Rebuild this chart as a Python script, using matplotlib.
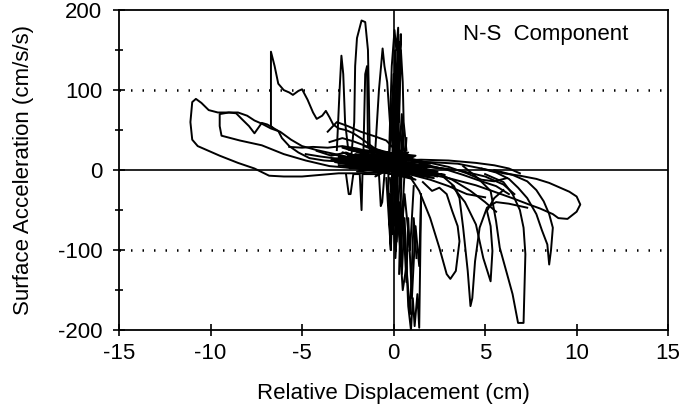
import matplotlib.pyplot as plt
from matplotlib.ticker import MultipleLocator

plt.rcParams['font.family'] = ['Liberation Sans', 'DejaVu Sans']
plt.rcParams['axes.unicode_minus'] = False

# ---- traces (x = cm, y = cm/s/s) ----
# big left loop
loop_a_x = [0.5, -1.0, -2.5, -3.8, -4.6, -5.2, -5.7, -6.1, -6.3, -6.6, -6.9, -7.2, -7.6, -7.9,
            -8.3, -8.6, -9.0, -9.6, -10.1, -10.5, -10.8, -11.0, -11.1, -11.0, -10.7, -10.3,
            -9.5, -8.5, -7.6, -6.8, -6.0, -5.0, -4.0, -3.0, -2.0, -1.0, 0.0]
loop_a_y = [5, 8, 10, 12, 15, 22, 30, 40, 49, 53, 57, 59, 46, 55, 64, 71, 72, 72, 75, 84, 89,
            85, 60, 38, 30, 26, 18, 9, 2, -7, -8, -8, -6, -4, -4, -3, 0]
# second left loop
loop_b_x = [-0.5, -2.0, -3.2, -4.2, -5.0, -5.6, -6.2, -6.7, -7.2, -7.6, -8.0, -8.5, -9.0,
            -9.5, -9.5, -9.4, -8.4, -7.2, -6.0, -4.8, -3.5, -2.0, -0.5]
loop_b_y = [8, 14, 20, 25, 30, 38, 48, 52, 58, 62, 68, 72, 72, 70, 55, 43, 37, 31, 20, 12, 5, 2, 0]
# jump at -6.7 and wavy descent
wave_x = [-6.6, -6.7, -6.7, -6.5, -6.3, -6.0, -5.7, -5.5, -5.2, -5.0, -4.7, -4.4, -4.2, -3.9,
          -3.7, -3.5, -3.3, -3.0, -2.6, -2.2, -1.8, -1.2, -0.5]
wave_y = [53, 55, 148, 130, 108, 100, 97, 94, 99, 101, 88, 72, 64, 68, 74, 66, 57, 52, 50, 46,
          40, 30, 18]
# left fan into the centre
fan1_x = [-5.7, -5.0, -4.4, -3.6, -2.8, -2.0, -1.0, 0.0]
fan1_y = [29, 28, 29, 28, 30, 27, 20, 10]
fan2_x = [-3.6, -3.1, -2.5, -1.8, -1.0, -0.4, 0.3]
fan2_y = [48, 60, 55, 48, 42, 37, 20]
fan3_x = [-4.8, -4.0, -3.0, -2.0, -1.0, 0.0, 1.0]
fan3_y = [20, 17, 14, 12, 9, 5, 2]
fan4_x = [-3.5, -2.8, -2.2, -1.5, -0.8, 0.2]
fan4_y = [35, 40, 36, 30, 25, 14]
fan5_x = [-4.2, -3.4, -2.6, -1.9, -1.2, -0.6, 0.4]
fan5_y = [24, 18, 22, 16, 20, 10, 6]
# dense core
core_x = [-3.4, 1.8, -3.0, 2.4, -2.8, 1.6, -3.2, 2.2, -2.5, 1.5, -2.0, 2.8, -3.4, 1.2, -1.5,
          2.0, -2.6, 1.6, -1.8, 2.4, -3.0, 1.0, -2.2, 2.6, -1.2, 1.8, -2.7, 0.8]
core_y = [20, -4, 16, -8, 22, -2, 10, -10, 18, 0, 8, -6, 13, -12, 16, 4, 10, -5, 22, -2, 6,
          -9, 15, 2, 24, -6, 4, 12]
core2_x = [-3.0, 1.0, -2.5, 1.4, -2.0, 0.8, -3.3, 1.6, -1.6, 2.0, -2.4, 0.6, -1.0, 1.2, -2.8,
           2.2, -1.4, 0.9, -2.1, 1.7]
core2_y = [8, 16, 26, 6, -2, 22, 14, 0, 30, 8, 2, 26, -8, 18, 28, -4, 12, -10, 20, 10]
# upward spikes near the origin
spk1_x = [-3.1, -2.95, -2.85, -2.75, -2.65, -2.5]
spk1_y = [25, 100, 143, 120, 60, 30]
spk2_x = [-2.3, -2.15, -2.1, -2.0, -1.75, -1.55, -1.4, -1.35, -1.3]
spk2_y = [20, 60, 130, 165, 187, 185, 150, 90, 25]
spk3_x = [-1.65, -1.55, -1.45, -1.4]
spk3_y = [20, 120, 130, 30]
spk4_x = [-1.0, -0.8, -0.6, -0.5, -0.35, -0.2, 0.0]
spk4_y = [25, 100, 152, 130, 110, 60, 20]
spk5_x = [-0.3, -0.1, 0.05, 0.15, 0.25, 0.3, 0.4, 0.5, 0.55, 0.7]
spk5_y = [-20, 130, 175, 150, 178, 60, 150, 110, 60, 25]
spk6_x = [-0.25, -0.05, 0.1, 0.2, 0.3, 0.45, 0.6]
spk6_y = [10, 90, 40, 120, 20, 70, 15]
cen_x = [0.05, 0.25, 0.1, 0.3, 0.15, 0.35, 0.2, 0.4, 0.0, 0.3, 0.1]
cen_y = [20, 170, -50, 160, -90, 140, 40, 170, -70, 100, -30]
cen2_x = [-0.2, 0.0, -0.1, 0.1, -0.15, 0.2, 0.0, 0.3, 0.1, 0.5, 0.3, 0.7]
cen2_y = [30, 120, -40, 150, -100, 110, -20, 160, -110, 60, -130, 40]
# downward spikes near the origin
neg1_x = [0.0, 0.15, 0.3, 0.45, 0.6, 0.8, 0.95, 1.05, 1.15, 1.3, 1.4, 1.5]
neg1_y = [0, -80, -40, -130, -60, -170, -200, -160, -195, -155, -197, -40]
neg2_x = [-0.2, 0.1, 0.25, 0.5, 0.7, 0.9, 1.1, 1.25]
neg2_y = [-10, -100, -60, -150, -120, -180, -60, -110]
neg3_x = [-2.6, -2.45, -2.35, -2.2, -1.85, -1.75, -1.7, -0.8, -0.7, -0.62, -0.5]
neg3_y = [-5, -30, -30, -5, -5, -50, -5, -5, -45, -40, -5]
neg4_x = [-0.4, -0.15, -0.3, -0.05, -0.2, 0.4, 0.6, 0.9, 1.1]
neg4_y = [-10, -100, -20, -80, -30, -90, -30, -100, -20]
neg5_x = [0.2, 0.4, 0.5, 0.7, 0.8, 1.0, 1.2, 1.4, 1.5]
neg5_y = [-20, -120, -50, -140, -60, -160, -70, -120, -30]
# right side loops and dips
loop_r1_x = [0.5, 2.0, 3.5, 4.8, 6.0, 6.9, 7.8, 8.5, 9.1, 9.6, 10.0, 10.2, 10.0, 9.5, 9.0,
             8.7, 8.0, 7.4, 6.6, 5.5, 4.5, 3.0, 1.5, 0.3]
loop_r1_y = [10, 10, 8, 2, -4, -7, -11, -16, -22, -27, -33, -43, -52, -61, -60, -55, -48, -43,
             -36, -27, -19, -10, -3, 0]
loop_r2_x = [4.8, 5.6, 6.3, 6.8, 7.3, 7.8, 8.1, 8.4, 8.5, 8.6, 8.7, 8.5, 8.2, 7.8, 7.3, 6.5, 5.5]
loop_r2_y = [2, -3, -11, -22, -35, -55, -75, -93, -118, -100, -72, -55, -39, -25, -14, -6, 0]
dip7_x = [3.8, 4.6, 5.3, 5.6, 5.8, 6.2, 6.5, 6.8, 7.1, 7.2, 7.1, 6.9, 6.5, 6.0, 5.0]
dip7_y = [5, -10, -26, -64, -97, -130, -155, -191, -191, -105, -72, -50, -30, -15, -5]
dip42_x = [2.7, 3.3, 3.6, 3.8, 4.05, 4.2, 4.3, 4.45, 4.7, 5.1, 5.6, 6.3, 7.3]
dip42_y = [-8, -20, -35, -72, -126, -170, -160, -114, -72, -47, -40, -42, -47]
dip53_x = [3.2, 3.9, 4.5, 4.9, 5.3, 5.4, 5.3, 5.1, 5.5, 6.0]
dip53_y = [-20, -40, -68, -110, -139, -101, -70, -51, -35, -25]
dip31_x = [0.8, 1.4, 2.0, 2.5, 2.9, 3.1, 3.4, 3.6, 3.5, 3.2, 2.9, 2.5, 2.1, 1.6]
dip31_y = [-5, -26, -60, -97, -130, -136, -126, -89, -70, -51, -30, -22, -26, -15]
rf1_x = [0.0, 1.5, 3.0, 4.5, 5.5, 6.3, 6.9]
rf1_y = [12, 13, 12, 9, 6, 2, -4]
rf2_x = [0.5, 2.0, 3.5, 5.0, 6.0, 6.6]
rf2_y = [5, 4, 0, -8, -18, -30]
rf3_x = [0.3, 1.5, 2.7, 3.8, 4.8, 5.6, 6.3]
rf3_y = [8, 6, 2, -6, -14, -20, -30]
rf4_x = [0.0, 1.0, 2.0, 3.0, 4.0, 5.0]
rf4_y = [-2, -6, -12, -20, -30, -34]
rf5_x = [1.0, 2.2, 3.2, 4.2, 5.0, 5.6]
rf5_y = [4, -2, -12, -26, -40, -52]
rf6_x = [0.5, 1.8, 3.0, 4.0, 4.8, 5.5, 6.2]
rf6_y = [14, 10, 4, -4, -12, -14, -10]

traces = [
    (loop_a_x, loop_a_y), (loop_b_x, loop_b_y), (wave_x, wave_y),
    (fan1_x, fan1_y), (fan2_x, fan2_y), (fan3_x, fan3_y), (fan4_x, fan4_y), (fan5_x, fan5_y),
    (core_x, core_y), (core2_x, core2_y),
    (spk1_x, spk1_y), (spk2_x, spk2_y), (spk3_x, spk3_y), (spk4_x, spk4_y), (spk5_x, spk5_y),
    (spk6_x, spk6_y), (cen_x, cen_y), (cen2_x, cen2_y),
    (neg1_x, neg1_y), (neg2_x, neg2_y), (neg3_x, neg3_y), (neg4_x, neg4_y), (neg5_x, neg5_y),
    (loop_r1_x, loop_r1_y), (loop_r2_x, loop_r2_y), (dip7_x, dip7_y), (dip42_x, dip42_y),
    (dip53_x, dip53_y), (dip31_x, dip31_y),
    (rf1_x, rf1_y), (rf2_x, rf2_y), (rf3_x, rf3_y), (rf4_x, rf4_y), (rf5_x, rf5_y),
    (rf6_x, rf6_y),
]

fig = plt.figure(figsize=(6.96, 4.20), dpi=100)
ax = fig.add_axes([0.171, 0.214, 0.789, 0.762])

for xs, ys in traces:
    ax.plot(xs, ys, color='black', lw=1.4)

# reference lines
ax.axhline(0, color='black', lw=1.2)
ax.axvline(0, color='black', lw=1.2)
for yv in [100, -100]:
    ax.axhline(yv, color='black', lw=1.8, linestyle=(0, (0.6, 4.0)))

ax.set_xlim(-15, 15)
ax.set_ylim(-200, 200)
ax.xaxis.set_major_locator(MultipleLocator(5))
ax.yaxis.set_major_locator(MultipleLocator(100))
ax.yaxis.set_minor_locator(MultipleLocator(50))
ax.tick_params(axis='both', which='major', direction='inout', length=8, width=1.2,
               labelsize=16, colors='black')
ax.tick_params(axis='y', which='minor', direction='inout', length=6, width=1.2)
ax.tick_params(axis='x', pad=5)
ax.tick_params(axis='y', pad=8)
for sp in ax.spines.values():
    sp.set_linewidth(1.3)

ax.set_xlabel('Relative Displacement (cm)', fontsize=16, labelpad=14)
ax.set_ylabel('Surface Acceleration (cm/s/s)', fontsize=16, labelpad=17)
ax.text(8.3, 169, 'N-S  Component', fontsize=16, ha='center', va='center')

fig.savefig('out.png', dpi=100)
